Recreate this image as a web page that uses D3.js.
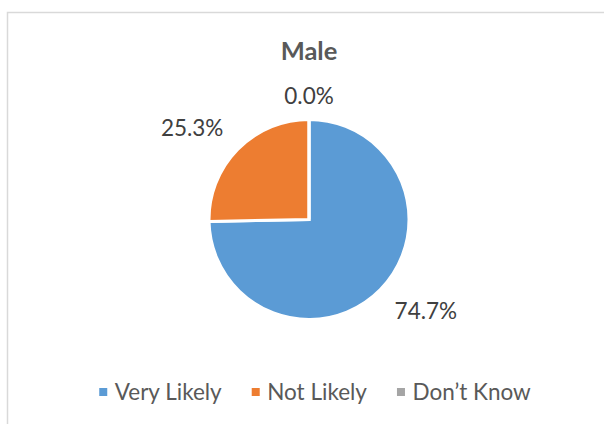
<!DOCTYPE html>
<html>
<head>
<meta charset="utf-8">
<script src="https://cdn.jsdelivr.net/npm/d3@7"></script>
<style>
  html, body { margin: 0; padding: 0; background: #fff; }
  svg { display: block; }
  text { font-family: Lato, "Open Sans", sans-serif; }
</style>
</head>
<body>
<svg id="chart" width="604" height="424"></svg>
<script>
// Survey answers for male respondents (percent)
const chartTitle = "Male";
const categories = ["Very Likely", "Not Likely", "Don\u2019t Know"];
const shares = [74.7, 25.3, 0.0];
const colors = ["#5B9BD5", "#ED7D31", "#A5A5A5"];

const W = 604, H = 424;
const svg = d3.select("#chart");

// chart frame (runs past the right and bottom edges)
svg.append("rect")
  .attr("x", 7.5).attr("y", 12.5)
  .attr("width", 610).attr("height", 430)
  .attr("fill", "#fff")
  .attr("stroke", "#d9d9d9")
  .attr("stroke-width", 1.5);

// title
svg.append("text")
  .attr("x", 309).attr("y", 59.5)
  .attr("text-anchor", "middle")
  .attr("font-size", 25.5)
  .attr("font-weight", "bold")
  .attr("fill", "#595959")
  .text(chartTitle);

const cx = 309, cy = 219.5, radius = 100;
const data = categories.map((c, i) => ({ cat: c, value: shares[i], color: colors[i] }));

const pie = d3.pie().value(d => d.value).sort(null);
const arcs = pie(data);
const arc = d3.arc().innerRadius(0).outerRadius(radius);

const g = svg.append("g").attr("transform", `translate(${cx},${cy})`);

g.selectAll("path.slice")
  .data(arcs)
  .join("path")
  .attr("class", "slice")
  .attr("d", arc)
  .attr("fill", d => d.data.color)
  .attr("stroke", "#fff")
  .attr("stroke-width", 3)
  .attr("stroke-linejoin", "miter");

// data labels, placed just outside each slice along its mid-angle
const fmt = d3.format(".1f");
const labelFont = 22.5;
const labels = g.selectAll("text.lbl")
  .data(arcs)
  .join("text")
  .attr("class", "lbl")
  .attr("font-size", labelFont)
  .attr("fill", "#404040")
  .attr("text-anchor", "middle")
  .text(d => fmt(d.data.value) + "%");

labels.each(function(d) {
  const el = d3.select(this);
  const w = this.getComputedTextLength();
  const h = labelFont * 0.68;
  const mid = (d.startAngle + d.endAngle) / 2;
  const dx = Math.sin(mid), dy = -Math.cos(mid);
  // diagonal labels sit a little further out than axis-aligned ones
  const r0 = radius + 16 + 8 * Math.abs(dx * dy);
  const kx = Math.sign(dx) * Math.min(1, Math.abs(dx) * 1.4);
  const ky = Math.sign(dy) * Math.min(1, Math.abs(dy) * 1.4);
  const x = dx * r0 + kx * w / 2;
  const y = dy * r0 + ky * h / 2;
  el.attr("x", x).attr("y", y + h / 2);
});

// legend, centred under the pie
const legendFont = 22.5;
const legend = svg.append("g").attr("class", "legend");
const items = legend.selectAll("g.item")
  .data(data)
  .join("g")
  .attr("class", "item");
items.append("rect")
  .attr("width", 8).attr("height", 8)
  .attr("y", -4)
  .attr("fill", d => d.color);
items.append("text")
  .attr("x", 15.5)
  .attr("y", 0)
  .attr("dy", "0.35em")
  .attr("font-size", legendFont)
  .attr("fill", "#595959")
  .text(d => d.cat);

let offset = 0;
const gap = 30;
items.each(function() {
  const item = d3.select(this);
  item.attr("transform", `translate(${offset},0)`);
  const tw = item.select("text").node().getComputedTextLength();
  offset += 15.5 + tw + gap;
});
const totalW = offset - gap;
legend.attr("transform", `translate(${315 - totalW / 2},392)`);
</script>
</body>
</html>
